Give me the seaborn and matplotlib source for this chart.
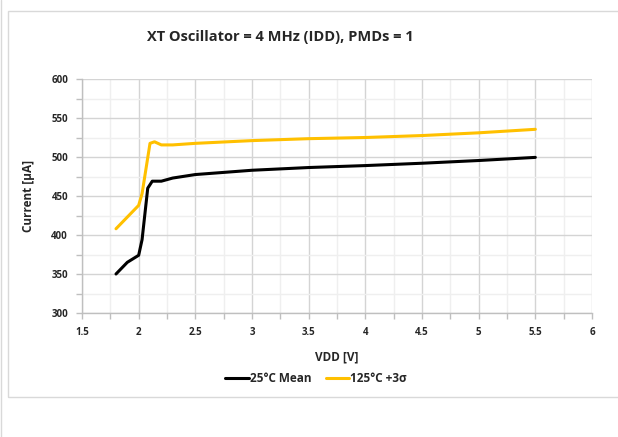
import matplotlib
matplotlib.use("Agg")
import matplotlib.pyplot as plt
import seaborn as sns
import pandas as pd
from matplotlib.patches import Rectangle
from matplotlib.lines import Line2D
from matplotlib.ticker import MultipleLocator

vdd_mean = [1.8, 1.9, 2.0, 2.03, 2.08, 2.12, 2.2, 2.3, 2.5, 3.0, 3.5, 4.0, 4.5, 5.0, 5.5]
mean_25 = [350, 365, 374, 394, 460, 469, 469, 473, 477.5, 483, 486.5, 489, 492, 495.5, 499.5]
vdd_hot = [1.8, 1.9, 2.0, 2.03, 2.1, 2.14, 2.2, 2.3, 2.5, 3.0, 3.5, 4.0, 4.5, 5.0, 5.5]
hot_125 = [408, 423, 438, 453, 517.5, 519.5, 515.5, 515.5, 517.5, 521, 523.5, 525, 527.5, 531, 535.5]

label_mean = "25°C Mean"
label_hot = "125°C +3σ"
title = "XT Oscillator = 4 MHz (IDD), PMDs = 1"
xlabel = "VDD [V]"
ylabel = "Current [µA]"

sns.set_theme(style="white")
plt.rcParams['font.family'] = ['Open Sans', 'DejaVu Sans']

df = pd.concat([
    pd.DataFrame({"VDD": vdd_mean, "I": mean_25, "series": label_mean}),
    pd.DataFrame({"VDD": vdd_hot, "I": hot_125, "series": label_hot}),
])

fig = plt.figure(figsize=(6.18, 4.37), dpi=100)
ax = fig.add_axes([82/618, 1-313/437, (592-82)/618, (313-79)/437])

sns.lineplot(data=df, x="VDD", y="I", hue="series", sort=False,
             palette={label_mean: "#000000", label_hot: "#FFC000"},
             linewidth=2.2, ax=ax, legend=False)

ax.set_xlim(1.5, 6)
ax.set_ylim(300, 600)
ax.xaxis.set_major_locator(MultipleLocator(0.5))
ax.xaxis.set_minor_locator(MultipleLocator(0.25))
ax.yaxis.set_major_locator(MultipleLocator(50))
ax.yaxis.set_minor_locator(MultipleLocator(25))
ax.grid(which="major", color="#d4d4d4", linewidth=1.0)
ax.grid(which="minor", color="#efefef", linewidth=1.0)
ax.set_axisbelow(True)
for s in ["top", "right"]:
    ax.spines[s].set_visible(False)
for s in ["left", "bottom"]:
    ax.spines[s].set_color("#bfbfbf")
    ax.spines[s].set_linewidth(1.0)
ax.tick_params(which="both", direction="out", length=4, color="#bfbfbf", width=1,
               bottom=True, left=True)
ax.tick_params(which="major", labelsize=7, pad=6)
ax.set_xticks([1.5, 2, 2.5, 3, 3.5, 4, 4.5, 5, 5.5, 6])
ax.set_xticklabels(["1.5", "2", "2.5", "3", "3.5", "4", "4.5", "5", "5.5", "6"])
for lab in ax.get_xticklabels() + ax.get_yticklabels():
    lab.set_fontweight("bold")
    lab.set_color("#262626")
ax.set_xlabel(xlabel, fontsize=8.5, fontweight="bold", labelpad=9)
ax.set_ylabel(ylabel, fontsize=8.5, fontweight="bold", labelpad=12)

fig.text(280/618, 1-37/437, title, ha="center", va="center", fontsize=10.5, fontweight="bold")

handles = [Line2D([], [], color="#000000", lw=2.2), Line2D([], [], color="#FFC000", lw=2.2)]
fig.legend(handles, [label_mean, label_hot], loc="center", bbox_to_anchor=(316/618, 1-379/437),
           ncol=2, frameon=False, handlelength=2.0, handletextpad=0.1, columnspacing=1.2,
           prop={"weight": "bold", "size": 8.5})

fig.patches.append(Rectangle((8/618, 1-397/437), 620/618, (397-11)/437, transform=fig.transFigure,
                             fill=False, edgecolor="#d9d9d9", linewidth=1.0))
fig.lines.append(Line2D([1.5/618, 1.5/618], [0, 1], transform=fig.transFigure, color="#d9d9d9", lw=1.0))

fig.savefig("out.png", dpi=100)
